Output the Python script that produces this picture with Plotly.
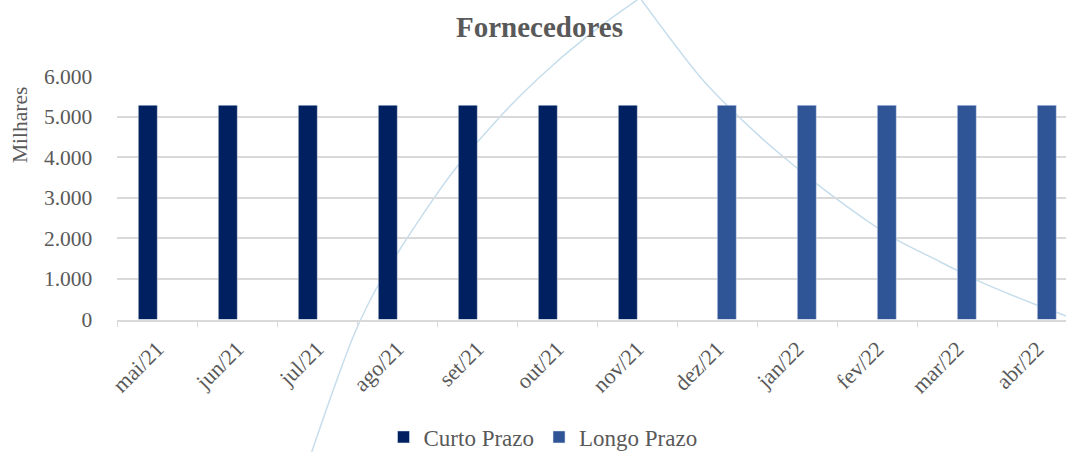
import plotly.graph_objects as go

# ---------------- data ----------------
months = ["mai/21", "jun/21", "jul/21", "ago/21", "set/21", "out/21", "nov/21",
          "dez/21", "jan/22", "fev/22", "mar/22", "abr/22"]
curto_prazo = [5280, 5280, 5280, 5280, 5280, 5280, 5280, None, None, None, None, None]
longo_prazo = [None, None, None, None, None, None, None, 5280, 5280, 5280, 5280, 5280]

y_tickvals = [0, 1000, 2000, 3000, 4000, 5000, 6000]
y_ticktext = ["0", "1.000", "2.000", "3.000", "4.000", "5.000", "6.000"]

# stray light-blue curve (x in category index units, y in axis units)
curve_up_x = [1.930, 2.200, 2.484, 2.763, 3.471, 3.763, 4.284, 4.784, 5.368, 6.034]
curve_up_y = [-3265, -1737, -259, 850, 3026, 3807, 4998, 5983, 6969, 7923]
curve_down_x = [6.034, 6.784, 7.118, 7.534, 7.825, 8.234, 8.993, 9.234, 9.784,
                10.284, 10.993, 11.359, 11.534]
curve_down_y = [7923, 5983, 5286, 4505, 4012, 3356, 2272, 1976, 1424,
                932, 357, 86, -62]

# ---------------- layout geometry ----------------
W, H = 1066, 452
x_left = 117.3      # px of left edge of first category
cat_w = 80.0        # px per category
y_zero = 319.5      # px of value 0
y_top = 76.0        # px of value 6000
y_max = 6000

xr_main = [-0.5, -0.5 + (W - x_left) / cat_w]
x_dom = [x_left / W, 1.0]
y_dom = [(H - y_zero) / H, (H - y_top) / H]
per_px = y_max / (y_zero - y_top)
xr_full = [-0.5 - x_left / cat_w, xr_main[1]]
yr_full = [-(H - y_zero) * per_px, y_zero * per_px]

TXT = "#595959"
GRID = "#D9D9D9"
FONT = "Liberation Serif"
CURVE = "#C6DDEC"

fig = go.Figure()

# curve on a full-figure overlay (drawn first, behind the bars)
for cx, cy in ((curve_up_x, curve_up_y), (curve_down_x, curve_down_y)):
    fig.add_trace(go.Scatter(
        x=cx, y=cy, mode="lines", xaxis="x", yaxis="y",
        line=dict(color=CURVE, width=1.5, shape="spline", smoothing=1.0),
        showlegend=False, hoverinfo="skip"))

fig.add_trace(go.Bar(x=months, y=curto_prazo, name="Curto Prazo",
                     marker=dict(color="#002060"), xaxis="x2", yaxis="y2"))
fig.add_trace(go.Bar(x=months, y=longo_prazo, name="Longo Prazo",
                     marker=dict(color="#2F5597"), xaxis="x2", yaxis="y2"))

fig.update_layout(
    width=W, height=H,
    margin=dict(l=0, r=0, t=0, b=0, autoexpand=False),
    paper_bgcolor="white", plot_bgcolor="rgba(0,0,0,0)",
    barmode="group", bargap=0.525, bargroupgap=0,
    font=dict(family=FONT, color=TXT, size=21),
    title=dict(text="<b>Fornecedores</b>", x=539.5 / W, xanchor="center",
               y=1 - 27 / H, yanchor="middle",
               font=dict(family=FONT, size=29, color=TXT)),
    xaxis=dict(domain=[0, 1], range=xr_full, visible=False, fixedrange=True,
               automargin=False),
    yaxis=dict(domain=[0, 1], range=yr_full, visible=False, fixedrange=True,
               automargin=False),
    xaxis2=dict(domain=x_dom, anchor="y2", type="category", range=xr_main,
                tickangle=-45, ticks="outside", tickson="boundaries", ticklen=6,
                tickcolor=GRID, showline=True, linecolor=GRID, linewidth=1.5,
                showgrid=False, automargin=False, ticklabelstandoff=6,
                tickfont=dict(family=FONT, size=22, color=TXT)),
    yaxis2=dict(domain=y_dom, anchor="x2", range=[0, y_max],
                tickvals=y_tickvals, ticktext=y_ticktext, automargin=False,
                showgrid=True, gridcolor=GRID, gridwidth=1.5, zeroline=False,
                showline=False, ticks="", ticklabelstandoff=24,
                tickfont=dict(family=FONT, size=21.5, color=TXT)),
    legend=dict(orientation="h", x=543 / W, xanchor="center", y=(H - 437) / H,
                yanchor="middle", font=dict(family=FONT, size=23, color=TXT),
                itemwidth=30, bgcolor="rgba(0,0,0,0)"),
    annotations=[dict(text="Milhares", x=20 / W, y=(H - 125) / H, xref="paper",
                      yref="paper", textangle=-90, showarrow=False,
                      xanchor="center", yanchor="middle",
                      font=dict(family=FONT, size=21.5, color=TXT))],
    showlegend=True,
)

fig.write_html("out.html", config={"displayModeBar": False},
               post_script="document.body.style.margin='0';document.body.style.overflow='hidden';")
